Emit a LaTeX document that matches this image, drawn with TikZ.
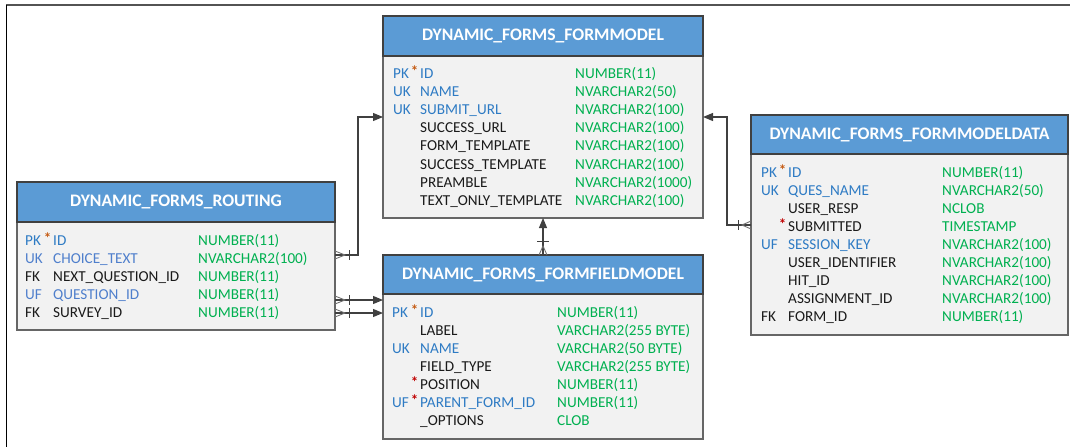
\documentclass[tikz,border=0pt]{standalone}
\usepackage{fontspec}
\setmainfont{Carlito}
\usetikzlibrary{arrows.meta,calc}
\definecolor{hdr}{HTML}{5B9BD5}
\definecolor{bodyc}{HTML}{F2F2F2}
\definecolor{edgec}{HTML}{404040}
\definecolor{keyblue}{HTML}{2E7BC4}
\definecolor{keyblue2}{HTML}{4F7FCC}
\definecolor{typec}{HTML}{00B050}
\definecolor{txtc}{HTML}{1A1A1A}
\definecolor{pkstar}{HTML}{C55A11}
\definecolor{redstar}{HTML}{C00000}
\definecolor{linec}{HTML}{404040}
\definecolor{footc}{HTML}{707070}
\newcommand\erow[7]{%
  \node[rtxt,text=#7] (#1-k) at (\kx,#2+5) {#3};
  \node[rtxt,text=#7] (#1-n) at (\nx,#2+5) {#5};
  \node[rtxt,text=typec] (#1-t) at (\tx,#2+5) {#6};
  \ifx\relax#4\relax\else
    \node[startxt,text=#4] (#1-s) at (\nx-1.5,#2+3.5) {*};
  \fi}
\begin{document}
\begin{tikzpicture}[x=1pt,y=-1pt,
  hdrbox/.style={draw=edgec,line width=1.3pt,fill=hdr,inner sep=0pt,outer sep=0pt,anchor=north west,
     text=white,font=\bfseries\fontsize{17.6}{20}\selectfont},
  bodybox/.style={draw=edgec!80,line width=1.3pt,fill=bodyc,inner sep=0pt,outer sep=0pt,anchor=north west},
  rtxt/.style={anchor=base west,inner sep=0pt,font=\fontsize{15.2}{17}\selectfont},
  startxt/.style={anchor=base east,inner sep=0pt,font=\bfseries\fontsize{15}{15}\selectfont},
  conn/.style={draw=linec,line width=1.1pt},
  arr/.style={conn,-{Triangle[length=10pt,width=8pt]}},
  foot/.style={draw=footc,line width=0.9pt},
  bar/.style={draw=linec,line width=1pt}]
\useasboundingbox (0,0) rectangle (1070,447);
% frame
\draw[draw=edgec!90,line width=1.6pt] (6,5) -- (1070,5);
\draw[draw=black,line width=1.4pt] (6.5,5) -- (6.5,447);

% ===== FORMMODEL =====
\node[bodybox,minimum width=320pt,minimum height=162pt] (fmb) at (383,56) {};
\node[hdrbox,minimum width=320pt,minimum height=40pt] (fmh) at (383,16) {DYNAMIC\_FORMS\_FORMMODEL};
\def\kx{393}\def\nx{420}\def\tx{575}
\erow{fm1}{73}{PK}{pkstar}{ID}{NUMBER(11)}{keyblue}
\erow{fm2}{91.2}{UK}{}{NAME}{NVARCHAR2(50)}{keyblue}
\erow{fm3}{109.4}{UK}{}{SUBMIT\_URL}{NVARCHAR2(100)}{keyblue}
\erow{fm4}{127.6}{}{}{SUCCESS\_URL}{NVARCHAR2(100)}{txtc}
\erow{fm5}{145.8}{}{}{FORM\_TEMPLATE}{NVARCHAR2(100)}{txtc}
\erow{fm6}{164}{}{}{SUCCESS\_TEMPLATE}{NVARCHAR2(100)}{txtc}
\erow{fm7}{182.2}{}{}{PREAMBLE}{NVARCHAR2(1000)}{txtc}
\erow{fm8}{200.4}{}{}{TEXT\_ONLY\_TEMPLATE}{NVARCHAR2(100)}{txtc}

% ===== ROUTING =====
\node[bodybox,minimum width=318pt,minimum height=108pt] (rtb) at (17,222) {};
\node[hdrbox,minimum width=318pt,minimum height=40pt] (rth) at (17,182) {DYNAMIC\_FORMS\_ROUTING};
\def\kx{25}\def\nx{53}\def\tx{198}
\erow{rt1}{240}{PK}{pkstar}{ID}{NUMBER(11)}{keyblue}
\erow{rt2}{258}{UK}{}{CHOICE\_TEXT}{NVARCHAR2(100)}{keyblue2}
\erow{rt3}{276}{FK}{}{NEXT\_QUESTION\_ID}{NUMBER(11)}{txtc}
\erow{rt4}{294}{UF}{}{QUESTION\_ID}{NUMBER(11)}{keyblue2}
\erow{rt5}{312}{FK}{}{SURVEY\_ID}{NUMBER(11)}{txtc}

% ===== FORMFIELDMODEL =====
\node[bodybox,minimum width=320pt,minimum height=145pt] (ffb) at (383,294) {};
\node[hdrbox,minimum width=320pt,minimum height=39pt] (ffh) at (383,255) {DYNAMIC\_FORMS\_FORMFIELDMODEL};
\def\kx{392}\def\nx{420}\def\tx{557}
\erow{ff1}{312}{PK}{pkstar}{ID}{NUMBER(11)}{keyblue}
\erow{ff2}{330}{}{}{LABEL}{VARCHAR2(255 BYTE)}{txtc}
\erow{ff3}{348}{UK}{}{NAME}{VARCHAR2(50 BYTE)}{keyblue}
\erow{ff4}{366}{}{}{FIELD\_TYPE}{VARCHAR2(255 BYTE)}{txtc}
\erow{ff5}{384}{}{redstar}{POSITION}{NUMBER(11)}{txtc}
\erow{ff6}{402}{UF}{redstar}{PARENT\_FORM\_ID}{NUMBER(11)}{keyblue}
\erow{ff7}{420}{}{}{\_OPTIONS}{CLOB}{txtc}

% ===== FORMMODELDATA =====
\node[bodybox,minimum width=317pt,minimum height=181pt] (mdb) at (751,154) {};
\node[hdrbox,minimum width=317pt,minimum height=39pt] (mdh) at (751,115) {DYNAMIC\_FORMS\_FORMMODELDATA};
\def\kx{761}\def\nx{788}\def\tx{942}
\erow{md1}{172}{PK}{pkstar}{ID}{NUMBER(11)}{keyblue}
\erow{md2}{190.1}{UK}{}{QUES\_NAME}{NVARCHAR2(50)}{keyblue}
\erow{md3}{208.2}{}{}{USER\_RESP}{NCLOB}{txtc}
\erow{md4}{226.3}{}{redstar}{SUBMITTED}{TIMESTAMP}{txtc}
\erow{md5}{244.4}{UF}{}{SESSION\_KEY}{NVARCHAR2(100)}{keyblue}
\erow{md6}{262.5}{}{}{USER\_IDENTIFIER}{NVARCHAR2(100)}{txtc}
\erow{md7}{280.6}{}{}{HIT\_ID}{NVARCHAR2(100)}{txtc}
\erow{md8}{298.7}{}{}{ASSIGNMENT\_ID}{NVARCHAR2(100)}{txtc}
\erow{md9}{316.8}{FK}{}{FORM\_ID}{NUMBER(11)}{txtc}

% ===== connection points =====
\coordinate (c1a) at (rtb.east |- 0,255);
\coordinate (c1b) at (fmb.west |- 0,117);
\coordinate (c2a) at (rtb.east |- 0,300);
\coordinate (c2b) at (ffb.west |- 0,300);
\coordinate (c3a) at (rtb.east |- 0,313);
\coordinate (c3b) at (ffb.west |- 0,313);
\coordinate (c4a) at (ffh.north -| 543,0);
\coordinate (c4b) at (fmb.south -| 543,0);
\coordinate (c5a) at (mdb.west |- 0,225);
\coordinate (c5b) at (fmb.east |- 0,117);

% connectors
\draw[arr] (c1a) -- ++(23,0) |- (c1b);
\draw[arr] (c2a) -- (c2b);
\draw[arr] (c3a) -- (c3b);
\draw[arr] (c4a) -- (c4b);
\draw[arr] (c5a) -- ++(-24,0) |- (c5b);

% crow's feet and bars (right-going, at routing)
\foreach \p in {c1a,c2a,c3a}{
  \draw[foot] ($(\p)+(0,-4)$) -- ($(\p)+(10,0)$) -- ($(\p)+(0,4)$);
  \draw[bar] ($(\p)+(14,-5)$) -- ($(\p)+(14,5)$);
}
% left-going at formmodeldata
\draw[foot] ($(c5a)+(0,-4)$) -- ($(c5a)+(-9,0)$) -- ($(c5a)+(0,4)$);
\draw[bar] ($(c5a)+(-13,-5)$) -- ($(c5a)+(-13,5)$);
% upward at formfieldmodel
\draw[foot] ($(c4a)+(-4,0)$) -- ($(c4a)+(0,-9)$) -- ($(c4a)+(4,0)$);
\draw[bar] ($(c4a)+(-6,-14)$) -- ($(c4a)+(6,-14)$);
\end{tikzpicture}
\end{document}
